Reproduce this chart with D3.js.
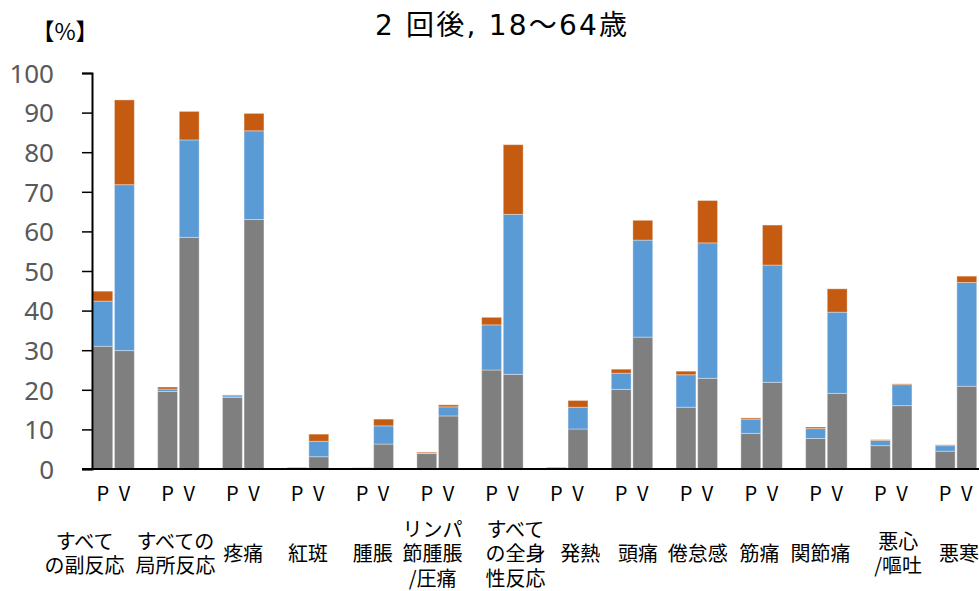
<!DOCTYPE html>
<html>
<head>
<meta charset="utf-8">
<script src="https://cdn.jsdelivr.net/npm/d3@7/dist/d3.min.js"></script>
<style>
  html, body { margin: 0; padding: 0; background: #fff; }
  svg { display: block; }
</style>
</head>
<body>
<svg id="chart" width="979" height="591"></svg>
<script>
// ---------- data ----------
const title = "2 回後, 18～64歳";
const unitLabel = "【%】";
const categories = [
  ["すべて", "の副反応"],
  ["すべての", "局所反応"],
  ["疼痛"],
  ["紅斑"],
  ["腫脹"],
  ["リンパ", "節腫脹", "/圧痛"],
  ["すべて", "の全身", "性反応"],
  ["発熱"],
  ["頭痛"],
  ["倦怠感"],
  ["筋痛"],
  ["関節痛"],
  ["悪心", "/嘔吐"],
  ["悪寒"]
];
const arms = ["P", "V"];
const seriesNames = ["軽度", "中等度", "高度"];
const seriesColors = ["#7f7f7f", "#5b9bd5", "#c55a11"];
// P arm
const mildP     = [31.0, 19.6, 18.1, 0.2, 0.1, 3.9, 25.0, 0.1, 20.1, 15.6, 9.0, 7.7, 5.9, 4.5];
const moderateP = [11.4,  0.6,  0.4, 0.1, 0.1, 0.2, 11.4, 0.1,  4.1,  8.2, 3.6, 2.5, 1.3, 1.4];
const severeP   = [ 2.5,  0.5,  0.2, 0.1, 0.1, 0.2,  1.9, 0.2,  1.0,  0.9, 0.3, 0.4, 0.2, 0.2];
// V arm
const mildV     = [29.9, 58.5, 63.0, 3.1, 6.3, 13.4, 23.9, 10.1, 33.3, 22.9, 21.9, 19.1, 16.0, 20.9];
const moderateV = [41.9, 24.6, 22.4, 3.9, 4.6,  2.3, 40.4,  5.5, 24.5, 34.2, 29.6, 20.5,  5.3, 26.2];
const severeV   = [21.4,  7.2,  4.4, 1.8, 1.7,  0.5, 17.6,  1.7,  5.0, 10.7, 10.1,  5.9,  0.2,  1.6];
const yTicks = [0, 10, 20, 30, 40, 50, 60, 70, 80, 90, 100];

// ---------- layout ----------
const svg = d3.select("#chart");
const W = 979, H = 591;
const plotLeft = 92, plotTop = 73, plotBottom = 469;
const groupStep = 64.8;
const plotRight = plotLeft + groupStep * categories.length;
const jpFont = "'Noto Sans CJK JP', 'Noto Sans', sans-serif";

svg.append("defs").append("clipPath").attr("id", "clip")
  .append("rect").attr("x", 0).attr("y", 0).attr("width", W).attr("height", H);

const x0 = d3.scaleBand()
  .domain(d3.range(categories.length))
  .range([plotLeft, plotRight])
  .paddingInner(0).paddingOuter(0);
const x1 = d3.scaleBand()
  .domain(["P", "V", "_"])
  .range([0, x0.bandwidth()])
  .paddingInner(0.08).paddingOuter(0.04);
const y = d3.scaleLinear().domain([0, 100]).range([plotBottom, plotTop]);

// build rows
const stackData = [];
categories.forEach((c, i) => {
  stackData.push({ cat: i, arm: "P", s0: mildP[i], s1: moderateP[i], s2: severeP[i] });
  stackData.push({ cat: i, arm: "V", s0: mildV[i], s1: moderateV[i], s2: severeV[i] });
});
const layers = d3.stack().keys(["s0", "s1", "s2"])(stackData);

const g = svg.append("g").attr("clip-path", "url(#clip)");
layers.forEach((layer, li) => {
  g.append("g").attr("fill", seriesColors[li])
    .selectAll("rect").data(layer).join("rect")
    .attr("x", d => x0(d.data.cat) + x1(d.data.arm))
    .attr("width", x1.bandwidth())
    .attr("y", d => y(d[1]))
    .attr("height", d => Math.max(0, y(d[0]) - y(d[1])))
    .attr("stroke", "rgba(255,255,255,0.35)")
    .attr("stroke-width", 1);
});

// y axis
const yAxis = d3.axisLeft(y).tickValues(yTicks).tickSize(10).tickPadding(28).tickFormat(d3.format("d"));
const ya = svg.append("g").attr("transform", `translate(${plotLeft},0)`).call(yAxis);
ya.select(".domain").attr("stroke", "#000").attr("stroke-width", 2);
ya.selectAll(".tick line").attr("stroke", "#000").attr("stroke-width", 1.5);
ya.selectAll(".tick text")
  .attr("fill", "#595959")
  .attr("font-family", "'Noto Sans', sans-serif")
  .attr("font-size", 26)
  .attr("dy", "0.36em");

// x axis line
svg.append("line")
  .attr("x1", plotLeft - 10).attr("x2", W)
  .attr("y1", plotBottom).attr("y2", plotBottom)
  .attr("stroke", "#000").attr("stroke-width", 2);

// P / V labels
const armLabels = svg.append("g").attr("clip-path", "url(#clip)");
categories.forEach((c, i) => {
  arms.forEach(a => {
    armLabels.append("text")
      .attr("x", x0(i) + x1(a) + x1.bandwidth() / 2)
      .attr("y", 501)
      .attr("text-anchor", "middle")
      .attr("font-family", jpFont)
      .attr("font-size", 20)
      .attr("fill", "#000")
      .text(a);
  });
});

// category labels (centered on the P/V pair, with small layout nudges)
const labelNudge = [-29, -3, 0, 0, 0, -5, 13, 13, 6, 1, -2, -6, 7, 3];
const catLabels = svg.append("g").attr("clip-path", "url(#clip)");
const lineH = 24.5, labelMid = 554;
categories.forEach((lines, i) => {
  const cx = x0(i) + (x1("P") + x1("V") + x1.bandwidth()) / 2 + labelNudge[i];
  const t = catLabels.append("text")
    .attr("text-anchor", "middle")
    .attr("font-family", jpFont)
    .attr("font-size", 20)
    .attr("fill", "#000");
  lines.forEach((ln, k) => {
    const yy = labelMid + (k - (lines.length - 1) / 2) * lineH;
    t.append("tspan").attr("x", cx).attr("y", yy).attr("dy", "0.36em").text(ln);
  });
});

// title
svg.append("text")
  .attr("x", 501).attr("y", 25).attr("dy", "0.36em")
  .attr("text-anchor", "middle")
  .attr("font-family", "'DejaVu Sans', 'Noto Sans CJK JP', sans-serif")
  .attr("font-size", 28)
  .attr("fill", "#000")
  .attr("textLength", 252)
  .attr("lengthAdjust", "spacing")
  .text(title);

// unit label
svg.append("text")
  .attr("x", 65).attr("y", 32).attr("dy", "0.36em")
  .attr("text-anchor", "middle")
  .attr("font-family", jpFont)
  .attr("font-size", 23)
  .attr("fill", "#000")
  .text(unitLabel);
</script>
</body>
</html>
